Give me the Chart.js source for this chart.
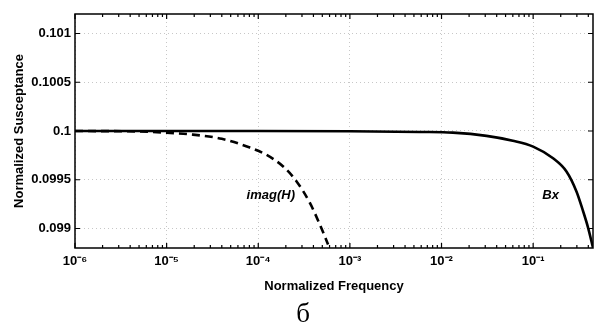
<!DOCTYPE html>
<html>
<head>
<meta charset="utf-8">
<script src="https://cdn.jsdelivr.net/npm/chart.js@4"></script>
<style>
  body { margin: 0; background: #fff; }
  #wrap { position: relative; width: 597px; height: 325px; }
  #caption { position: absolute; left: 283px; top: 300px; width: 40px; text-align: center;
             font: 27px/27px "Liberation Serif", "DejaVu Serif", serif; color: #000; }
</style>
</head>
<body>
<div id="wrap">
  <canvas id="myChart" width="597" height="325"></canvas>
  <div id="caption">б</div>
</div>
<script>
// values
var bxFreq = [1e-6, 1e-5, 1e-4, 1e-3, 0.0058, 0.0133, 0.031, 0.06, 0.1, 0.165, 0.231, 0.297, 0.351, 0.398, 0.45];
var bxVal  = [0.1, 0.1, 0.1, 0.099998, 0.09999, 0.099983, 0.09995, 0.0999, 0.09984, 0.09972, 0.099585, 0.09938, 0.099177, 0.099007, 0.098803];

var imFreq = [1e-6, 5e-6, 1.09e-5, 1.8e-5, 4e-5, 8.1e-5, 1.23e-4, 1.87e-4, 2.62e-4, 3.66e-4, 4.7e-4, 5.78e-4];
var imVal  = [0.1, 0.099995, 0.09998, 0.099966, 0.09992, 0.09983, 0.099755, 0.099636, 0.099483, 0.099262, 0.099041, 0.098837];

var xTicks = [1e-6, 1e-5, 1e-4, 1e-3, 1e-2, 1e-1];
var xTickLabels = ['10⁻⁶', '10⁻⁵', '10⁻⁴', '10⁻³', '10⁻²', '10⁻¹'];
var yTicks = [0.099, 0.0995, 0.1, 0.1005, 0.101];
var yTickLabels = ['0.099', '0.0995', '0.1', '0.1005', '0.101'];

var labelText = ['imag(H)', 'Bx'];
var labelFreq = [1.37e-4, 0.155];
var labelVal  = [0.099337, 0.09934];

function toPoints(xs, ys) {
    return xs.map(function (x, i) { return { x: x, y: ys[i] }; });
}

var boxPlugin = {
    id: 'box',
    afterDraw: function (chart) {
        var ctx = chart.ctx;
        var a = chart.chartArea;
        var xs = chart.scales.x;
        var ys = chart.scales.y;
        ctx.save();
        ctx.strokeStyle = '#000';
        ctx.lineWidth = 1.5;
        ctx.strokeRect(a.left, a.top, a.right - a.left, a.bottom - a.top);

        // inward ticks, major and minor on the log axis
        ctx.lineWidth = 1.2;
        ctx.beginPath();
        for (var e = -6; e <= -1; e++) {
            for (var k = 1; k <= 9; k++) {
                var v = k * Math.pow(10, e);
                if (v > xs.max) break;
                var px = xs.getPixelForValue(v);
                var len = k === 1 ? 5 : 3;
                ctx.moveTo(px, a.bottom); ctx.lineTo(px, a.bottom - len);
                ctx.moveTo(px, a.top); ctx.lineTo(px, a.top + len);
            }
        }
        yTicks.forEach(function (v) {
            var py = ys.getPixelForValue(v);
            ctx.moveTo(a.left, py); ctx.lineTo(a.left + 5, py);
            ctx.moveTo(a.right, py); ctx.lineTo(a.right - 5, py);
        });
        ctx.stroke();

        // curve labels
        ctx.fillStyle = '#000';
        ctx.font = 'italic bold 13px "Liberation Sans", Arial, sans-serif';
        ctx.textAlign = 'center';
        ctx.textBaseline = 'middle';
        labelText.forEach(function (t, i) {
            ctx.fillText(t, xs.getPixelForValue(labelFreq[i]), ys.getPixelForValue(labelVal[i]));
        });
        ctx.restore();
    }
};

var tickFont = { family: '"Liberation Sans", Arial, sans-serif', size: 13, weight: 'bold' };

var ctx = document.getElementById('myChart').getContext('2d');
var myChart = new Chart(ctx, {
    type: 'scatter',
    data: {
        datasets: [{
            label: 'Bx',
            data: toPoints(bxFreq, bxVal),
            showLine: true,
            borderColor: '#000',
            borderWidth: 2.6,
            pointRadius: 0,
            cubicInterpolationMode: 'monotone'
        }, {
            label: 'imag(H)',
            data: toPoints(imFreq, imVal),
            showLine: true,
            borderColor: '#000',
            borderWidth: 2.6,
            borderDash: [8, 5],
            pointRadius: 0,
            cubicInterpolationMode: 'monotone'
        }]
    },
    options: {
        responsive: false,
        animation: false,
        layout: { padding: { top: 14, right: 4, left: 0, bottom: 0 } },
        plugins: {
            legend: { display: false },
            tooltip: { enabled: false }
        },
        scales: {
            x: {
                type: 'logarithmic',
                min: 1e-6,
                max: 0.45,
                afterBuildTicks: function (s) { s.ticks = xTicks.map(function (v) { return { value: v }; }); },
                afterFit: function (s) { s.height = 77; },
                ticks: {
                    autoSkip: false,
                    maxRotation: 0,
                    padding: 6,
                    color: '#000',
                    font: tickFont,
                    callback: function (v, i) { return xTickLabels[i]; }
                },
                grid: {
                    color: 'rgba(0,0,0,0.22)',
                    drawTicks: false
                },
                border: { display: true, color: 'rgba(0,0,0,0)', dash: [1, 3] },
                title: {
                    display: true,
                    text: 'Normalized Frequency',
                    color: '#000',
                    font: tickFont,
                    padding: { top: 0, bottom: 31 }
                }
            },
            y: {
                min: 0.0988,
                max: 0.1012,
                afterBuildTicks: function (s) { s.ticks = yTicks.map(function (v) { return { value: v }; }); },
                afterFit: function (s) { s.width = 75; },
                ticks: {
                    padding: 4,
                    color: '#000',
                    font: tickFont,
                    callback: function (v, i) { return yTickLabels[i]; }
                },
                grid: {
                    color: 'rgba(0,0,0,0.22)',
                    drawTicks: false
                },
                border: { display: true, color: 'rgba(0,0,0,0)', dash: [1, 3] },
                title: {
                    display: true,
                    text: 'Normalized Susceptance',
                    color: '#000',
                    font: tickFont,
                    padding: { top: 12, bottom: 0 }
                }
            }
        }
    },
    plugins: [boxPlugin]
});
</script>
</body>
</html>
